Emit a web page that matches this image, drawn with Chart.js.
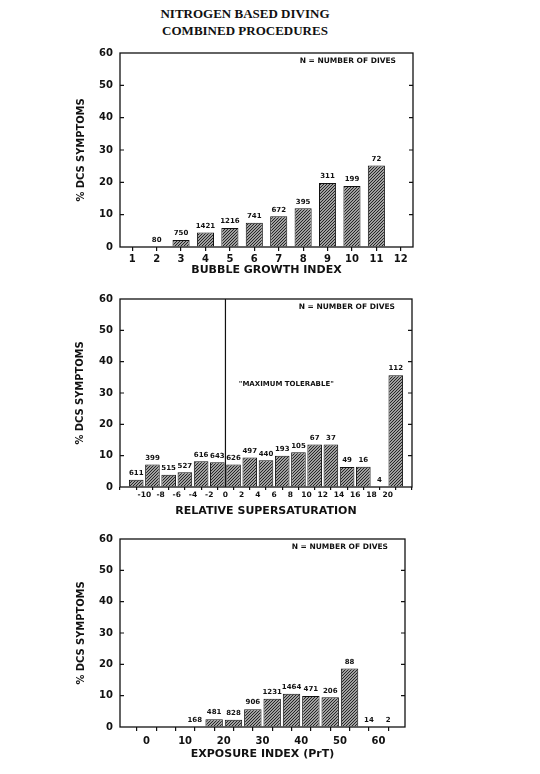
<!DOCTYPE html>
<html>
<head>
<meta charset="utf-8">
<script src="https://cdn.jsdelivr.net/npm/chart.js@4.4.1/dist/chart.umd.min.js"></script>
<style>
html, body { margin: 0; padding: 0; background: #fff; }
body { width: 540px; height: 774px; position: relative; overflow: hidden; }
.titulo { position: absolute; left: 135px; top: 5px; width: 220px; text-align: center;
  font: bold 13px/17px "Liberation Serif", "DejaVu Serif", serif; color: #111; }
canvas { position: absolute; left: 0; }
</style>
</head>
<body>
<div class="titulo">NITROGEN BASED DIVING<br>COMBINED PROCEDURES</div>
<canvas id="grafBurbuja" style="top:40px" width="540" height="246"></canvas>
<canvas id="grafSaturacion" style="top:286px" width="540" height="240"></canvas>
<canvas id="grafExposicion" style="top:526px" width="540" height="248"></canvas>
<script>
/* PANEL 1: indice de crecimiento de burbuja */
const burbujaIndices = ['1', '2', '3', '4', '5', '6', '7', '8', '9', '10', '11', '12'];
const burbujaPct = [null, 0, 2.2, 4.5, 5.9, 7.5, 9.5, 12, 19.8, 18.9, 25.2, null];
const burbujaBuceos = [null, 80, 750, 1421, 1216, 741, 672, 395, 311, 199, 72, null];

/* PANEL 2: sobresaturacion relativa (centros de cada intervalo de 2) */
const saturacionCentros = [-11, -9, -7, -5, -3, -1, 1, 3, 5, 7, 9, 11, 13, 15, 17, 19, 21];
const saturacionPct = [2.3, 7.2, 3.9, 4.7, 8.2, 7.9, 7.2, 9.4, 8.5, 10, 11.1, 13.6, 13.6, 6.4, 6.5, 0, 35.7];
const saturacionBuceos = [611, 399, 515, 527, 616, 643, 626, 497, 440, 193, 105, 67, 37, 49, 16, 4, 112];

/* PANEL 3: indice de exposicion (centros de cada intervalo de 5) */
const exposicionCentros = [12.5, 17.5, 22.5, 27.5, 32.5, 37.5, 42.5, 47.5, 52.5, 57.5, 62.5];
const exposicionPct = [0, 2.5, 2.3, 5.7, 9.0, 10.6, 9.9, 9.5, 18.7, 0, 0];
const exposicionBuceos = [168, 481, 828, 906, 1231, 1464, 471, 206, 88, 14, 2];

const ticksY = [0, 10, 20, 30, 40, 50, 60];

const FUENTE = '"DejaVu Sans", sans-serif';
const FUENTE_ANGOSTA = '"Liberation Sans Narrow", "DejaVu Sans Condensed", "Liberation Sans", sans-serif';
const TINTA = '#111';

function crearRayado() {
  const c = document.createElement('canvas');
  c.width = 3; c.height = 3;
  const g = c.getContext('2d');
  g.fillStyle = '#a0a0a0';
  g.fillRect(0, 0, 3, 3);
  g.strokeStyle = '#262626';
  g.lineWidth = 1;
  g.beginPath();
  g.moveTo(0, 3); g.lineTo(3, 0);
  g.moveTo(-1, 1); g.lineTo(1, -1);
  g.moveTo(2, 4); g.lineTo(4, 2);
  g.stroke();
  return g.createPattern(c, 'repeat');
}
const rayado = crearRayado();

// caja, marcas interiores del eje Y, nota "N = ..." y etiquetas sobre las barras
const marcoPanel = {
  id: 'marcoPanel',
  afterDraw(chart, args, opts) {
    const ctx = chart.ctx;
    const a = chart.chartArea;
    const y = chart.scales.y;
    ctx.save();
    ctx.strokeStyle = TINTA;
    ctx.lineWidth = 1.3;
    ctx.strokeRect(a.left, a.top, a.right - a.left, a.bottom - a.top);
    ctx.lineWidth = 1.2;
    ticksY.forEach(v => {
      if (v === 0 || v === 60) return;
      const py = y.getPixelForValue(v);
      ctx.beginPath();
      ctx.moveTo(a.left, py); ctx.lineTo(a.left + 4, py);
      ctx.moveTo(a.right, py); ctx.lineTo(a.right - 4, py);
      ctx.stroke();
    });

    ctx.fillStyle = TINTA;
    ctx.font = 'bold 7.5px ' + FUENTE;
    ctx.textAlign = 'right';
    ctx.textBaseline = 'middle';
    ctx.fillText('N = NUMBER OF DIVES', a.right - 17, a.top + 8);

    // numero de buceos sobre cada barra
    const meta = chart.getDatasetMeta(0);
    ctx.font = 'bold 7px ' + FUENTE;
    ctx.textAlign = 'center';
    ctx.textBaseline = 'bottom';
    opts.buceos.forEach((n, i) => {
      if (n === null) return;
      const barra = meta.data[i];
      ctx.fillText(String(n), barra.x, barra.y - 3);
    });

    if (opts.linea) {
      const px = chart.scales.x.getPixelForValue(0);
      ctx.lineWidth = 1.2;
      ctx.beginPath();
      ctx.moveTo(px, a.top); ctx.lineTo(px, a.bottom);
      ctx.stroke();
      ctx.textBaseline = 'middle';
      ctx.fillText('"MAXIMUM TOLERABLE"', chart.scales.x.getPixelForValue(7.5), y.getPixelForValue(32.8));
    }
    ctx.restore();
  }
};

function ejeY(izq) {
  return {
    min: 0,
    max: 60,
    ticks: { stepSize: 10, color: TINTA, padding: 7, font: { family: FUENTE, size: 10, weight: 'bold' } },
    grid: { drawOnChartArea: false, drawTicks: false },
    border: { display: false },
    title: {
      display: true, text: '% DCS SYMPTOMS', color: TINTA,
      font: { family: FUENTE_ANGOSTA, size: 11, weight: 'bold' },
      padding: { top: 5, bottom: 0 }
    },
    afterFit: s => { s.width = 120 - izq; }
  };
}

// para un titulo abajo, Chart.js mide desde el borde inferior con padding.bottom
function tituloX(texto, abajo) {
  return {
    display: true, text: texto, color: TINTA,
    font: { family: FUENTE, size: 11, weight: 'bold' },
    padding: { top: 0, bottom: abajo }
  };
}

/* PANEL 1 */
new Chart(document.getElementById('grafBurbuja'), {
  type: 'bar',
  data: {
    labels: burbujaIndices,
    datasets: [{
      data: burbujaPct,
      backgroundColor: rayado,
      borderColor: TINTA,
      borderWidth: 1,
      barPercentage: 0.7,
      categoryPercentage: 1
    }]
  },
  options: {
    responsive: false,
    animation: false,
    layout: { padding: { left: 70, top: 10, right: 127, bottom: 0 } },
    plugins: {
      legend: { display: false },
      tooltip: { enabled: false },
      marcoPanel: { buceos: burbujaBuceos, linea: false }
    },
    scales: {
      x: {
        ticks: { color: TINTA, padding: 2, autoSkip: false, maxRotation: 0, font: { family: FUENTE, size: 10, weight: 'bold' } },
        grid: { offset: false, drawOnChartArea: false, tickLength: 4, color: TINTA, lineWidth: 1.2 },
        border: { display: false },
        title: tituloX('BUBBLE GROWTH INDEX', 9.5),
        afterFit: s => { s.height = 39; }
      },
      y: ejeY(70)
    }
  },
  plugins: [marcoPanel]
});

/* PANEL 2 */
new Chart(document.getElementById('grafSaturacion'), {
  type: 'bar',
  data: {
    datasets: [{
      data: saturacionCentros.map((c, i) => ({ x: c, y: saturacionPct[i] })),
      backgroundColor: rayado,
      borderColor: TINTA,
      borderWidth: 1,
      barPercentage: 0.9,
      categoryPercentage: 1
    }]
  },
  options: {
    responsive: false,
    animation: false,
    layout: { padding: { left: 69, top: 6, right: 128, bottom: 0 } },
    plugins: {
      legend: { display: false },
      tooltip: { enabled: false },
      marcoPanel: { buceos: saturacionBuceos, linea: true }
    },
    scales: {
      x: {
        type: 'linear',
        min: -12,
        max: 22,
        ticks: {
          stepSize: 2, color: TINTA, padding: 1, autoSkip: false, maxRotation: 0,
          font: { family: FUENTE, size: 7.5, weight: 'bold' },
          callback: v => (v <= -12 || v >= 22) ? '' : v
        },
        grid: { drawOnChartArea: false, tickLength: 3, color: TINTA, lineWidth: 1.2 },
        border: { display: false },
        title: tituloX('RELATIVE SUPERSATURATION', 8.5),
        afterFit: s => { s.height = 39; }
      },
      y: ejeY(69)
    }
  },
  plugins: [marcoPanel]
});

/* PANEL 3 */
new Chart(document.getElementById('grafExposicion'), {
  type: 'bar',
  data: {
    datasets: [{
      data: exposicionCentros.map((c, i) => ({ x: c, y: exposicionPct[i] })),
      backgroundColor: rayado,
      borderColor: TINTA,
      borderWidth: 1,
      barPercentage: 0.9,
      categoryPercentage: 1
    }]
  },
  options: {
    responsive: false,
    animation: false,
    layout: { padding: { left: 70, top: 6, right: 135, bottom: 0 } },
    plugins: {
      legend: { display: false },
      tooltip: { enabled: false },
      marcoPanel: { buceos: exposicionBuceos, linea: false }
    },
    scales: {
      x: {
        type: 'linear',
        min: -4,
        max: 64,
        ticks: {
          stepSize: 5, includeBounds: false, color: TINTA, padding: 4, autoSkip: false, maxRotation: 0,
          font: { family: FUENTE, size: 10, weight: 'bold' },
          callback: v => v % 10 === 0 ? v : ''
        },
        grid: { drawOnChartArea: false, tickLength: 4, color: TINTA, lineWidth: 1.2 },
        border: { display: false },
        title: tituloX('EXPOSURE INDEX (PrT)', 13.5),
        afterFit: s => { s.height = 47; }
      },
      y: ejeY(70)
    }
  },
  plugins: [marcoPanel]
});
</script>
</body>
</html>
